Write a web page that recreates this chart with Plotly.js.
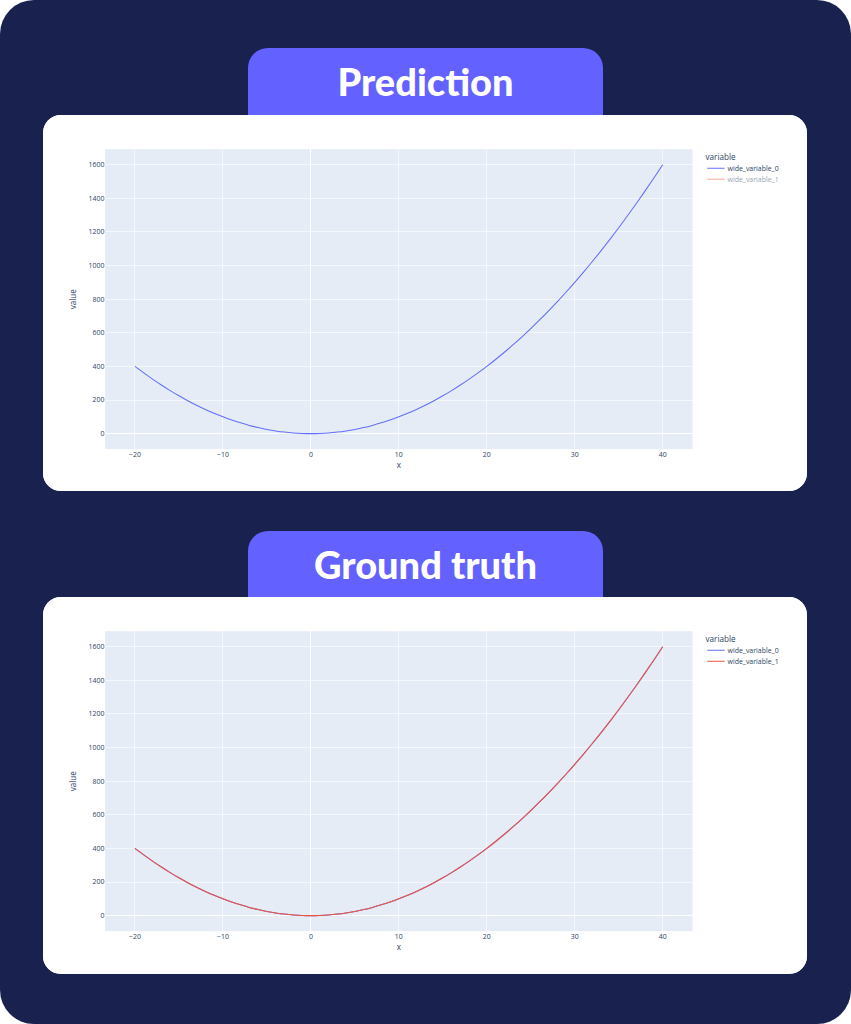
<!DOCTYPE html>
<html>
<head>
<meta charset="utf-8">
<script src="https://cdn.plot.ly/plotly-3.0.1.min.js"></script>
<style>
    body { margin: 0; background: #ffffff; }
    #frame {
        position: relative;
        width: 851px;
        height: 1024px;
        background: #19224f;
        border-radius: 34px;
        overflow: hidden;
    }
    .tab {
        position: absolute;
        left: 248px;
        width: 355px;
        height: 67px;
        background: #6361ff;
        border-radius: 20px 20px 0 0;
        color: #ffffff;
        font-family: Lato, sans-serif;
        font-weight: 900;
        font-size: 38px;
        line-height: 67px;
        text-align: center;
    }
    .card {
        position: absolute;
        left: 43px;
        width: 764px;
        height: 376px;
        background: #ffffff;
        border-radius: 18px;
        overflow: hidden;
    }
    .plot {
        width: 1317px;
        height: 648px;
        transform: scale(0.58);
        transform-origin: 0 0;
    }
</style>
</head>
<body>
<div id="frame">
    <div class="tab" style="top:48px">Prediction</div>
    <div class="card" style="top:115px"><div id="pred-chart" class="plot"></div></div>
    <div class="tab" style="top:531px">Ground truth</div>
    <div class="card" style="top:597px;height:377px"><div id="truth-chart" class="plot"></div></div>
</div>
<script>
// values
const xValues = [-20, -19, -18, -17, -16, -15, -14, -13, -12, -11, -10, -9, -8, -7, -6, -5, -4, -3, -2, -1,
    0, 1, 2, 3, 4, 5, 6, 7, 8, 9, 10, 11, 12, 13, 14, 15, 16, 17, 18, 19, 20,
    21, 22, 23, 24, 25, 26, 27, 28, 29, 30, 31, 32, 33, 34, 35, 36, 37, 38, 39, 40];
const wideVariable0 = [400, 361, 324, 289, 256, 225, 196, 169, 144, 121, 100, 81, 64, 49, 36, 25, 16, 9, 4, 1,
    0, 1, 4, 9, 16, 25, 36, 49, 64, 81, 100, 121, 144, 169, 196, 225, 256, 289, 324, 361, 400,
    441, 484, 529, 576, 625, 676, 729, 784, 841, 900, 961, 1024, 1089, 1156, 1225, 1296, 1369, 1444, 1521, 1600];
const wideVariable1 = [400, 361, 324, 289, 256, 225, 196, 169, 144, 121, 100, 81, 64, 49, 36, 25, 16, 9, 4, 1,
    0, 1, 4, 9, 16, 25, 36, 49, 64, 81, 100, 121, 144, 169, 196, 225, 256, 289, 324, 361, 400,
    441, 484, 529, 576, 625, 676, 729, 784, 841, 900, 961, 1024, 1089, 1156, 1225, 1296, 1369, 1444, 1521, 1600];
const seriesNames = ['wide_variable_0', 'wide_variable_1'];
const seriesColors = ['#636efa', '#EF553B'];

const fontColor = '#2a3f5f';

function makeTraces(hideSecond) {
    return [wideVariable0, wideVariable1].map((vals, i) => ({
        type: 'scatter',
        mode: 'lines',
        name: seriesNames[i],
        x: xValues,
        y: vals,
        line: { color: seriesColors[i], width: 1.8, shape: 'spline' },
        visible: (hideSecond && i === 1) ? 'legendonly' : true
    }));
}

function makeLayout() {
    return {
        width: 1317,
        height: 648,
        margin: { l: 107, r: 197, t: 59, b: 72 },
        paper_bgcolor: '#ffffff',
        plot_bgcolor: '#E5ECF6',
        font: { family: '"Open Sans", verdana, arial, sans-serif', size: 12, color: fontColor },
        xaxis: {
            title: { text: 'x', font: { size: 14 }, standoff: 7 },
            range: [-23.4, 43.4],
            dtick: 10,
            gridcolor: '#ffffff',
            gridwidth: 1,
            zeroline: true,
            zerolinecolor: '#ffffff',
            zerolinewidth: 2,
            ticks: '',
            automargin: false
        },
        yaxis: {
            title: { text: 'value', font: { size: 14 }, standoff: 17 },
            range: [-92, 1692],
            dtick: 200,
            gridcolor: '#ffffff',
            gridwidth: 1,
            zeroline: true,
            zerolinecolor: '#ffffff',
            zerolinewidth: 2,
            ticks: '',
            automargin: false
        },
        legend: {
            title: { text: 'variable' },
            x: 1.02,
            y: 1,
            tracegroupgap: 0
        },
        showlegend: true
    };
}

const config = { displayModeBar: false, staticPlot: true };

Plotly.newPlot('pred-chart', makeTraces(true), makeLayout(), config);
Plotly.newPlot('truth-chart', makeTraces(false), makeLayout(), config);
</script>
</body>
</html>
